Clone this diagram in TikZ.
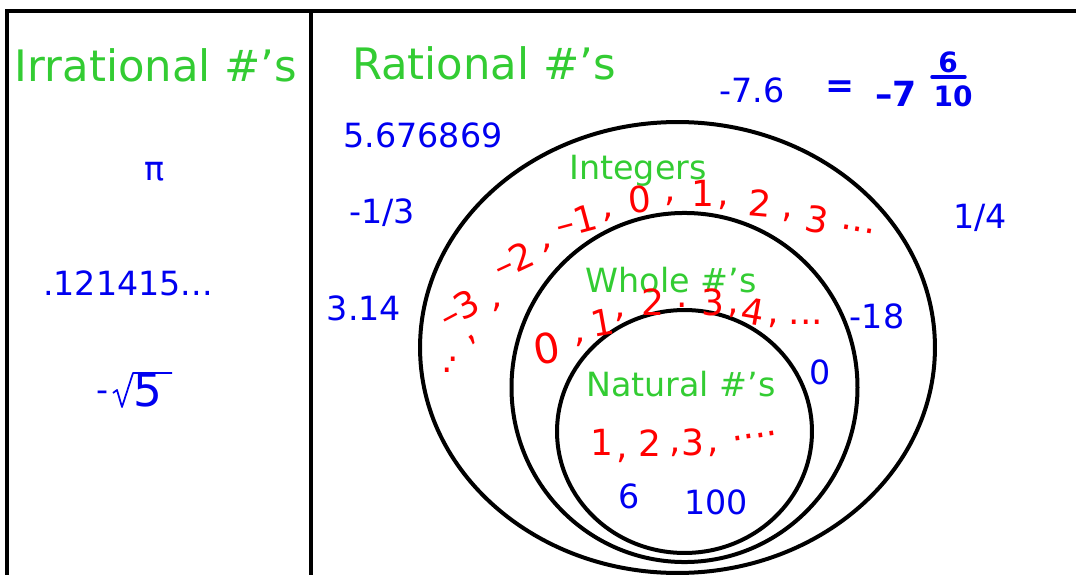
\documentclass[tikz,border=0pt]{standalone}
\usepackage{fontspec}
\setmainfont{DejaVu Sans}
\definecolor{grn}{RGB}{51,204,51}
\definecolor{blu}{RGB}{0,0,240}
\definecolor{rd}{RGB}{255,0,0}
\tikzset{
  frame/.style={line width=3.2pt, black, line cap=rect},
  ring/.style={line width=3pt, black},
  head/.style={text=grn, font=\fontsize{32.5}{38}\selectfont, inner sep=0pt},
  setname/.style={text=grn, font=\fontsize{25}{30}\selectfont, inner sep=0pt},
  num/.style={text=blu, font=\fontsize{25}{30}\selectfont, inner sep=0pt},
  hand/.style={text=rd, font=\fontsize{27}{32}\selectfont, inner sep=0pt},
  bhand/.style={text=blu, font=\fontsize{26}{30}\bfseries\selectfont, inner sep=0pt},
  fhand/.style={text=blu, font=\fontsize{21}{24}\bfseries\selectfont, inner sep=0pt},
  radical/.style={blu, line width=1.3pt, line join=round}
}
\begin{document}
\begin{tikzpicture}[x=0.75pt,y=-0.75pt]
\useasboundingbox (0,0) rectangle (1076,575);
% frame
\draw[frame] (7,578) -- (7,11) -- (1080,11);
\draw[frame] (311,11) -- (311,578);
% ellipses
\draw[ring] (677.5,347.5) ellipse [x radius=193.1pt, y radius=169.1pt];
\draw[ring] (684.5,387.5) ellipse [x radius=129.75pt, y radius=130.9pt];
\draw[ring] (684.5,431.5) ellipse [x radius=95.6pt, y radius=91.1pt];
% headings
\node[head] (hirr) at (156,65) {Irrational \#'s};
\node[head] (hrat) at (484,63) {Rational \#'s};
\node[setname] (hint) at (638,171) {Integers};
\node[setname] (hwho) at (671,280) {Whole \#'s};
\node[setname] (hnat) at (681,384) {Natural \#'s};
% irrational numbers
\node[num] (pi) at (155,172) {π};
\node[num] (dec) at (128,283) {.121415...};
\node[num] (sqm) at (103,396) {-};
\node[num, font=\fontsize{34}{38}\selectfont] (sq5) at (148,390) {5};
\draw[radical] (113,393) -- (117,390) -- (122,407) -- (133,373) -- (172,373);
% rational numbers
\node[num] (r1) at (752,90) {-7.6};
\node[num] (r2) at (423,135) {5.676869};
\node[num] (r3) at (382,213) {-1/3};
\node[num] (r4) at (364,308) {3.14};
\node[num] (r5) at (980,218) {1/4};
\node[num] (r6) at (877,316) {-18};
\node[num] (r7) at (820,372) {0};
\node[num] (r8) at (629,496) {6};
\node[num] (r9) at (716,502) {100};
% handwritten = -7 6/10
\node[bhand] (eq) at (840,89) {=};
\node[bhand] (m7) at (896,94) {–7};
\node[fhand] (f6) at (948,62) {6};
\node[fhand] (f10) at (953,96) {10};
\coordinate (barL) at (932,77);
\coordinate (barR) at (965,77);
\draw[blu, line width=2.6pt, line cap=round] (barL) -- (barR);
% integers arc
\node[hand] (id1) at (447,370) {.};
\node[hand] (id2) at (453,359) {.};
\node[hand, rotate=40] (ic0) at (473,340) {,};
\node[hand, rotate=28] (in3) at (459,309) {–3};
\node[hand] (ic1) at (497,307) {,};
\node[hand, rotate=25] (in2) at (513,260) {–2};
\node[hand] (ic2) at (547,248) {,};
\node[hand, rotate=15] (in1) at (576,221) {–1};
\node[hand] (ic3) at (608,217) {,};
\node[hand, rotate=5] (i0) at (640,199) {0};
\node[hand] (ic4) at (670,201) {,};
\node[hand] (i1) at (703,193) {1};
\node[hand] (ic5) at (723,205) {,};
\node[hand, rotate=-5] (i2) at (760,203) {2};
\node[hand] (ic6) at (787,217) {,};
\node[hand, rotate=-10] (i3) at (817,220) {3};
\node[hand, rotate=-10] (idots) at (858,229) {...};
% whole arc
\node[hand, font=\fontsize{31}{36}\selectfont, rotate=10] (w0) at (547,348) {0};
\node[hand] (wc0) at (580,342) {,};
\node[hand, rotate=10] (w1) at (602,323) {1};
\node[hand] (wc1) at (620,317) {,};
\node[hand] (w2) at (653,302) {2};
\node[hand] (wc2) at (682,305) {.};
\node[hand] (w3) at (713,302) {3};
\node[hand] (wc3) at (733,313) {,};
\node[hand, rotate=-10] (w4) at (753,312) {4};
\node[hand] (wc4) at (773,323) {,};
\node[hand] (wdots) at (806,322) {...};
% natural
\node[hand] (n1) at (602,442) {1};
\node[hand] (nc1) at (622,458) {,};
\node[hand] (n2) at (650,443) {2};
\node[hand] (nc2) at (675,452) {,};
\node[hand] (n3) at (693,442) {3};
\node[hand] (nc3) at (713,452) {,};
\node[hand, rotate=8] (ndots) at (755,436) {....};
\end{tikzpicture}
\end{document}
